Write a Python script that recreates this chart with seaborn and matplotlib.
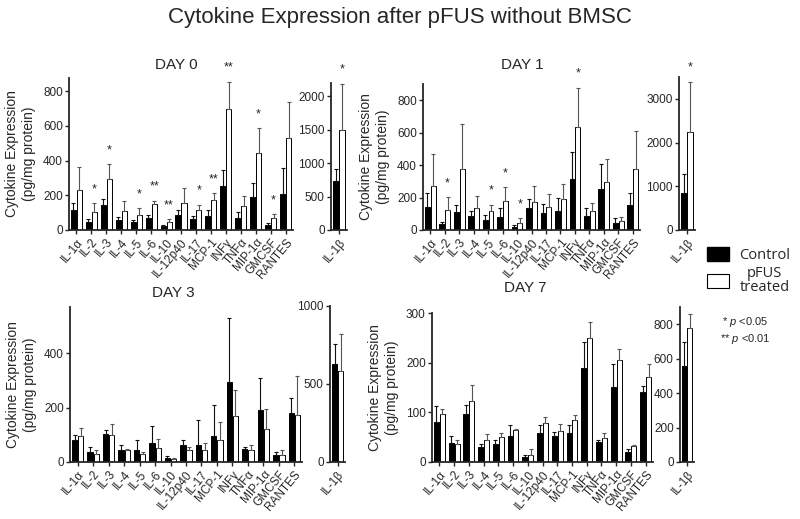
import numpy as np
import pandas as pd
import seaborn as sns
import matplotlib.pyplot as plt
from matplotlib.patches import Patch

# categories
cytokines = ["IL-1α", "IL-2", "IL-3", "IL-4", "IL-5", "IL-6", "IL-10", "IL-12p40",
             "IL-17", "MCP-1", "INFγ", "TNFα", "MIP-1α", "GMCSF", "RANTES"]
groups = ["Control", "pFUS treated"]

# day 0 (pg/mg protein), mean and SEM
day0_ctrl = [115, 44, 144, 58, 48, 67, 23, 86, 65, 81, 253, 71, 192, 29, 209]
day0_ctrl_sem = [38, 17, 32, 19, 10, 17, 6, 31, 17, 32, 90, 31, 80, 13, 146]
day0_pfus = [230, 105, 293, 107, 88, 148, 48, 157, 117, 175, 698, 138, 441, 67, 527]
day0_pfus_sem = [134, 48, 85, 60, 37, 21, 13, 83, 29, 38, 155, 56, 144, 23, 211]
day0_stars = ["", "*", "*", "", "*", "**", "**", "", "*", "**", "**", "", "*", "*", ""]
day0_il1b = [735, 1500]
day0_il1b_sem = [175, 690]
day0_il1b_star = "*"

# day 1
day1_ctrl = [144, 37, 109, 86, 62, 78, 21, 133, 103, 119, 312, 86, 250, 41, 152]
day1_ctrl_sem = [82, 14, 45, 33, 30, 55, 10, 58, 55, 78, 170, 47, 156, 31, 74]
day1_pfus = [271, 123, 373, 135, 115, 180, 45, 172, 144, 193, 636, 115, 297, 53, 373]
day1_pfus_sem = [197, 78, 279, 76, 41, 82, 27, 99, 75, 92, 242, 51, 142, 29, 236]
day1_stars = ["", "*", "", "", "*", "*", "*", "", "", "", "*", "", "", "", ""]
day1_il1b = [835, 2240]
day1_il1b_sem = [456, 1155]
day1_il1b_star = "*"

# day 3
day3_ctrl = [82, 37, 104, 45, 43, 71, 15, 62, 62, 95, 296, 46, 192, 26, 181]
day3_ctrl_sem = [16, 18, 15, 16, 37, 60, 6, 18, 91, 115, 234, 9, 116, 12, 54]
day3_pfus = [94, 31, 98, 43, 31, 53, 10, 45, 43, 80, 168, 43, 121, 24, 174]
day3_pfus_sem = [31, 12, 43, 6, 6, 33, 5, 12, 28, 67, 97, 18, 75, 21, 144]
day3_stars = [""] * 15
day3_il1b = [630, 583]
day3_il1b_sem = [129, 240]
day3_il1b_star = ""

# day 7
day7_ctrl = [80, 39, 97, 30, 37, 53, 10, 58, 52, 58, 189, 40, 152, 21, 140]
day7_ctrl_sem = [32, 13, 18, 7, 8, 21, 5, 16, 8, 16, 53, 5, 46, 6, 14]
day7_pfus = [97, 37, 123, 44, 50, 65, 15, 79, 62, 85, 250, 48, 205, 32, 171]
day7_pfus_sem = [10, 7, 33, 13, 8, 2, 12, 12, 15, 10, 32, 11, 23, 2, 26]
day7_stars = [""] * 15
day7_il1b = [559, 777]
day7_il1b_sem = [135, 81]
day7_il1b_star = ""

sns.set_style("ticks")
plt.rcParams["font.family"] = ["Liberation Sans", "DejaVu Sans"]
plt.rcParams["mathtext.fontset"] = "custom"
plt.rcParams["mathtext.rm"] = "Liberation Sans"
plt.rcParams["mathtext.it"] = "Liberation Sans:italic"

W, H = 800, 519
fig = plt.figure(figsize=(8, 5.19), dpi=100)


def px_axes(left, right, top, bottom):
    return fig.add_axes([left / W, 1 - bottom / H, (right - left) / W, (bottom - top) / H])


def draw_bars(ax, labels, ctrl, ctrl_sem, pfus, pfus_sem, stars, ymax, yticks):
    df = pd.DataFrame({
        "cytokine": labels * 2,
        "group": [groups[0]] * len(labels) + [groups[1]] * len(labels),
        "value": list(ctrl) + list(pfus),
    })
    sns.barplot(data=df, x="cytokine", y="value", hue="group", order=labels,
                hue_order=groups, palette={groups[0]: "black", groups[1]: "white"},
                edgecolor="black", linewidth=0.7, errorbar=None, width=0.8, gap=0.15,
                saturation=1, legend=False, ax=ax)
    # upward-only error bars, stars above the treated bar
    for cont, sems, col in zip(ax.containers, [ctrl_sem, pfus_sem], ["#111111", "#555555"]):
        for bar, s in zip(cont, sems):
            cx = bar.get_x() + bar.get_width() / 2
            h = bar.get_height()
            ax.errorbar(cx, h, yerr=[[0], [s]], fmt="none", ecolor=col,
                        elinewidth=0.8, capsize=1.5, capthick=0.8, zorder=1)
    for bar, s, st in zip(ax.containers[1], pfus_sem, stars):
        if st:
            cx = bar.get_x() + bar.get_width() / 2
            ax.annotate(st, xy=(cx, bar.get_height() + s), xytext=(0, 10),
                        textcoords="offset points", ha="center", va="center",
                        fontsize=9, annotation_clip=False)
    ax.set_xlim(-0.5, len(labels) - 0.5)
    ax.set_ylim(0, ymax)
    ax.set_yticks(yticks)
    ax.set_xlabel("")
    ax.set_ylabel("")
    sns.despine(ax=ax)
    for sp in ["left", "bottom"]:
        ax.spines[sp].set_linewidth(1.3)
    ax.tick_params(axis="both", length=3, width=1, pad=1.5)
    ax.tick_params(axis="y", labelsize=8.5)
    ax.tick_params(axis="x", labelsize=8.5)
    for t in ax.get_xticklabels():
        t.set_rotation(50)
        t.set_ha("right")
        t.set_rotation_mode("anchor")


panels = [
    # main axes box, il1b box, data, limits, title pos
    dict(main=(69, 293, 78, 230), il=(331, 347, 83, 230),
         d=(day0_ctrl, day0_ctrl_sem, day0_pfus, day0_pfus_sem, day0_stars),
         il1b=(day0_il1b, day0_il1b_sem, day0_il1b_star),
         ymax=875, yt=[0, 200, 400, 600, 800], ilmax=2200, ilt=[0, 500, 1000, 1500, 2000],
         title="DAY 0", tpos=(176, 65)),
    dict(main=(423, 640, 84, 230), il=(679, 695, 77, 230),
         d=(day1_ctrl, day1_ctrl_sem, day1_pfus, day1_pfus_sem, day1_stars),
         il1b=(day1_il1b, day1_il1b_sem, day1_il1b_star),
         ymax=900, yt=[0, 200, 400, 600, 800], ilmax=3500, ilt=[0, 1000, 2000, 3000],
         title="DAY 1", tpos=(522, 65)),
    dict(main=(70, 302, 307, 462), il=(330, 345, 306, 462),
         d=(day3_ctrl, day3_ctrl_sem, day3_pfus, day3_pfus_sem, day3_stars),
         il1b=(day3_il1b, day3_il1b_sem, day3_il1b_star),
         ymax=570, yt=[0, 200, 400], ilmax=1000, ilt=[0, 500, 1000],
         title="DAY 3", tpos=(173, 293)),
    dict(main=(432, 653, 313, 462), il=(680, 694, 307, 462),
         d=(day7_ctrl, day7_ctrl_sem, day7_pfus, day7_pfus_sem, day7_stars),
         il1b=(day7_il1b, day7_il1b_sem, day7_il1b_star),
         ymax=300, yt=[0, 100, 200, 300], ilmax=900, ilt=[0, 200, 400, 600, 800],
         title="DAY 7", tpos=(525, 288)),
]

for p in panels:
    ax = px_axes(*p["main"])
    draw_bars(ax, cytokines, *p["d"], p["ymax"], p["yt"])
    ax.set_ylabel("Cytokine Expression\n(pg/mg protein)", fontsize=10, labelpad=5,
                  linespacing=1.25)
    axi = px_axes(*p["il"])
    vals, sems, star = p["il1b"]
    draw_bars(axi, ["IL-1β"], [vals[0]], [sems[0]], [vals[1]], [sems[1]], [star],
              p["ilmax"], p["ilt"])
    fig.text(p["tpos"][0] / W, 1 - p["tpos"][1] / H, p["title"], fontsize=11,
             ha="center", va="center")

fig.text(0.5, 1 - 18 / H, "Cytokine Expression after pFUS without BMSC",
         fontsize=16, ha="center", va="center")

leg = fig.legend(handles=[Patch(fc="black", ec="black"), Patch(fc="white", ec="black", lw=0.8)],
                 labels=["Control", "pFUS\ntreated"], loc="upper left",
                 bbox_to_anchor=(700 / W, 1 - 240 / H), frameon=False,
                 handlelength=1.5, handleheight=1.05, handletextpad=0.7,
                 borderpad=0, labelspacing=0.2,
                 prop={"family": "Open Sans", "size": 10.5})
leg.get_texts()[1].set_multialignment("center")
leg.get_texts()[1].set_linespacing(0.95)

fig.text(745 / W, 1 - 322 / H, r"* $\it{p}$ <0.05", fontsize=8, ha="center", va="center")
fig.text(745 / W, 1 - 339 / H, r"** $\it{p}$ <0.01", fontsize=8, ha="center", va="center")

fig.savefig("out.png", dpi=100)
